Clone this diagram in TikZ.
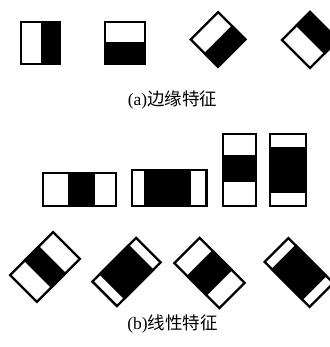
\documentclass[tikz,border=0pt]{standalone}
\usepackage{fontspec}
\setmainfont{Liberation Serif}
\newfontfamily\cjk{Noto Sans CJK SC}
\newcommand\bandrect[7]{%
 \begin{scope}[shift={({#1},{347-#2})},rotate=#3]
  \fill[black] ({-#4/2+#6},{-#5/2}) rectangle ({-#4/2+#7},{#5/2});
  \draw[line width=2.3pt] ({-#4/2+1.15},{-#5/2+1.15}) rectangle ({#4/2-1.15},{#5/2-1.15});
 \end{scope}}
\tikzset{lbl/.style={inner sep=0pt,font=\fontsize{17.5}{18}\selectfont}}
\begin{document}
\begin{tikzpicture}[x=1pt,y=1pt]
\useasboundingbox (0,0) rectangle (329,347);
% (a) edge features
\bandrect{40.5}{43}{0}{41}{44}{20.5}{41}
\bandrect{125}{43}{90}{44}{42}{0}{23}
\bandrect{218}{39.5}{-45}{41}{41}{20.5}{41}
\bandrect{310}{40}{45}{42}{42}{21}{42}
\node[lbl] (la) at (172.5,{347-100.5}) {(a){\cjk 边缘特征}};
% (b) line features
\bandrect{79.5}{189.5}{0}{75}{35}{26}{53}
\bandrect{169}{188}{0}{77}{38}{13}{60}
\bandrect{239.5}{170}{-90}{74}{35}{22}{49}
\bandrect{288}{170}{-90}{74}{38}{14}{60}
\bandrect{45}{267}{45}{63}{40}{21}{42}
\bandrect{126.5}{272}{45}{64}{37}{11}{53}
\bandrect{209.5}{273}{-45}{66}{38}{19}{47}
\bandrect{299}{272.5}{-45}{66}{36}{11}{55}
\node[lbl] (lb) at (172.5,{347-324}) {(b){\cjk 线性特征}};
\end{tikzpicture}
\end{document}
